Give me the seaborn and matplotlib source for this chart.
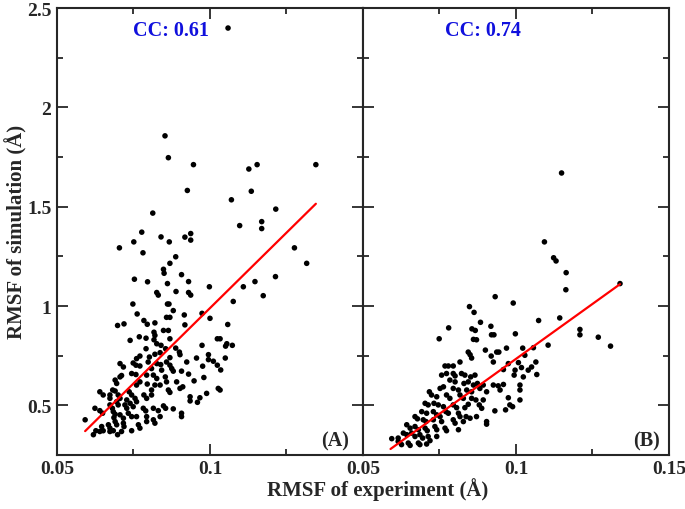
import numpy as np
import pandas as pd
import seaborn as sns
import matplotlib
matplotlib.use("Agg")
import matplotlib.pyplot as plt
from matplotlib.ticker import MultipleLocator

# panel A data
exp_a = [0.1059, 0.0853, 0.0864, 0.0946, 0.1127, 0.1154, 0.1346, 0.0926, 0.1135, 0.107,
         0.1215, 0.0813, 0.1097, 0.1169, 0.1169, 0.0777, 0.0937, 0.0704, 0.0751, 0.0781,
         0.084, 0.0867, 0.0918, 0.0937, 0.0888, 0.1276, 0.1316, 0.0848, 0.085, 0.0869,
         0.0907, 0.0753, 0.0796, 0.0861, 0.093, 0.1214, 0.1147, 0.1109, 0.0998, 0.1174,
         0.0826, 0.0831, 0.0889, 0.093, 0.0937, 0.1076, 0.0748, 0.0861, 0.0866, 0.0762,
         0.088, 0.0916, 0.0974, 0.0858, 0.0869, 0.1, 0.0698, 0.0719, 0.0784, 0.0795,
         0.082, 0.0918, 0.1058, 0.0848, 0.0864, 0.0817, 0.082, 0.0769, 0.0791, 0.0739,
         0.0817, 0.0826, 0.0869, 0.084, 0.0855, 0.0888, 0.0974, 0.1024, 0.1033, 0.1055,
         0.1051, 0.1073, 0.0791, 0.0771, 0.076, 0.0802, 0.082, 0.0837, 0.09, 0.0869,
         0.0902, 0.0956, 0.0995, 0.105, 0.0995, 0.1011, 0.1024, 0.1035, 0.0976, 0.0924,
         0.0706, 0.0717, 0.0749, 0.0758, 0.0771, 0.0798, 0.0826, 0.0839, 0.0858, 0.0869,
         0.0809, 0.0842, 0.0875, 0.088, 0.0907, 0.093, 0.098, 0.0744, 0.0758, 0.0706,
         0.0711, 0.0793, 0.0815, 0.0826, 0.0854, 0.0891, 0.0948, 0.0695, 0.069, 0.076,
         0.0771, 0.0795, 0.082, 0.0837, 0.0858, 0.0902, 0.0911, 0.0989, 0.0967, 0.1027,
         0.1033, 0.0935, 0.0935, 0.0959, 0.0864, 0.0869, 0.0809, 0.0809, 0.0784, 0.0736,
         0.0744, 0.0682, 0.069, 0.064, 0.0651, 0.0673, 0.0673, 0.07, 0.0706, 0.0728,
         0.0739, 0.0755, 0.076, 0.0793, 0.0695, 0.07, 0.0722, 0.0728, 0.0749, 0.0782,
         0.079, 0.0815, 0.0831, 0.0848, 0.0855, 0.088, 0.0907, 0.0907, 0.0673, 0.0681,
         0.064, 0.0649, 0.0624, 0.0684, 0.069, 0.0686, 0.0706, 0.0717, 0.0733, 0.0744,
         0.076, 0.0793, 0.0793, 0.0815, 0.082, 0.0837, 0.0766, 0.0717, 0.0719, 0.069,
         0.0695, 0.0668, 0.0673, 0.0646, 0.0627, 0.0619, 0.064, 0.0651, 0.0673, 0.0684,
         0.0698, 0.0711, 0.0744, 0.0592, 0.0771]
sim_a = [2.4, 1.857, 1.747, 1.712, 1.69, 1.712, 1.712, 1.582, 1.578, 1.535,
         1.488, 1.468, 1.405, 1.425, 1.39, 1.372, 1.365, 1.293, 1.323, 1.268,
         1.348, 1.323, 1.347, 1.332, 1.248, 1.293, 1.215, 1.185, 1.165, 1.215,
         1.158, 1.135, 1.122, 1.113, 1.123, 1.148, 1.123, 1.097, 1.097, 1.052,
         1.068, 1.055, 1.073, 1.068, 1.055, 1.023, 1.01, 1.01, 1.01, 0.96,
         0.977, 0.955, 0.963, 0.943, 0.943, 0.938, 0.902, 0.91, 0.927, 0.908,
         0.915, 0.905, 0.907, 0.877, 0.877, 0.868, 0.852, 0.845, 0.838, 0.827,
         0.83, 0.81, 0.835, 0.802, 0.785, 0.788, 0.802, 0.835, 0.835, 0.81,
         0.798, 0.802, 0.785, 0.748, 0.735, 0.743, 0.757, 0.765, 0.768, 0.74,
         0.755, 0.738, 0.755, 0.738, 0.73, 0.722, 0.702, 0.678, 0.697, 0.718,
         0.71, 0.693, 0.713, 0.702, 0.698, 0.718, 0.71, 0.705, 0.718, 0.702,
         0.685, 0.677, 0.685, 0.672, 0.672, 0.657, 0.64, 0.66, 0.655, 0.643,
         0.65, 0.652, 0.652, 0.635, 0.643, 0.618, 0.623, 0.61, 0.627, 0.602,
         0.618, 0.607, 0.602, 0.602, 0.618, 0.585, 0.593, 0.56, 0.538, 0.585,
         0.577, 0.543, 0.522, 0.515, 0.577, 0.565, 0.577, 0.552, 0.552, 0.568,
         0.552, 0.577, 0.572, 0.568, 0.552, 0.552, 0.535, 0.552, 0.535, 0.527,
         0.51, 0.535, 0.518, 0.535, 0.518, 0.502, 0.502, 0.485, 0.493, 0.485,
         0.472, 0.485, 0.473, 0.497, 0.485, 0.482, 0.46, 0.443, 0.502, 0.485,
         0.473, 0.46, 0.485, 0.468, 0.455, 0.438, 0.452, 0.435, 0.46, 0.443,
         0.443, 0.443, 0.418, 0.427, 0.41, 0.443, 0.402, 0.41, 0.393, 0.418,
         0.402, 0.402, 0.385, 0.393, 0.372, 0.352, 0.368, 0.372, 0.368, 0.372,
         0.352, 0.368, 0.372, 0.427, 0.385]

# panel B data
exp_b = [0.1149, 0.1093, 0.1123, 0.1131, 0.1164, 0.1163, 0.134, 0.0932, 0.0991, 0.0848,
         0.0863, 0.1074, 0.1143, 0.078, 0.0884, 0.0856, 0.0867, 0.0918, 0.092, 0.0928,
         0.1209, 0.1209, 0.0749, 0.0861, 0.0871, 0.0998, 0.1269, 0.1309, 0.1105, 0.1057,
         0.09, 0.0937, 0.0944, 0.0969, 0.1022, 0.0844, 0.085, 0.0919, 0.1029, 0.0855,
         0.1065, 0.0926, 0.0975, 0.1008, 0.0768, 0.0779, 0.0795, 0.0817, 0.1051, 0.104,
         0.1018, 0.0997, 0.0959, 0.0757, 0.0773, 0.0795, 0.0801, 0.0822, 0.0833, 0.0852,
         0.0866, 0.0994, 0.1024, 0.1068, 0.0784, 0.0801, 0.083, 0.0844, 0.0861, 0.0874,
         0.0893, 0.0926, 0.0942, 0.0959, 0.1013, 0.0752, 0.0763, 0.0795, 0.0812, 0.0839,
         0.0855, 0.0882, 0.0904, 0.0948, 0.1013, 0.0717, 0.0724, 0.0741, 0.0773, 0.0784,
         0.0817, 0.0828, 0.0855, 0.0869, 0.0893, 0.0975, 0.1013, 0.098, 0.0989, 0.0703,
         0.0713, 0.0732, 0.0746, 0.0763, 0.0795, 0.0806, 0.0833, 0.0844, 0.088, 0.0888,
         0.0931, 0.0966, 0.0692, 0.0708, 0.073, 0.0741, 0.0771, 0.0779, 0.0812, 0.0817,
         0.0837, 0.085, 0.0871, 0.0904, 0.0904, 0.067, 0.0678, 0.0697, 0.0706, 0.073,
         0.0752, 0.0757, 0.0795, 0.0801, 0.0828, 0.0643, 0.0654, 0.067, 0.0681, 0.0703,
         0.071, 0.0735, 0.0741, 0.0768, 0.0773, 0.0812, 0.0632, 0.0643, 0.0659, 0.067,
         0.0686, 0.0695, 0.0713, 0.0719, 0.0741, 0.0594, 0.0615, 0.0626, 0.0648, 0.0654,
         0.0681, 0.0686, 0.0708, 0.0615]
sim_b = [1.67, 1.323, 1.243, 1.227, 1.168, 1.082, 1.113, 1.047, 1.015, 0.997,
         0.968, 0.927, 0.94, 0.89, 0.918, 0.885, 0.877, 0.898, 0.855, 0.855,
         0.882, 0.855, 0.835, 0.832, 0.83, 0.86, 0.843, 0.798, 0.803, 0.79,
         0.778, 0.768, 0.768, 0.788, 0.788, 0.768, 0.755, 0.748, 0.752, 0.738,
         0.718, 0.718, 0.71, 0.715, 0.698, 0.698, 0.698, 0.718, 0.693, 0.677,
         0.69, 0.677, 0.68, 0.652, 0.66, 0.66, 0.648, 0.66, 0.652, 0.643,
         0.652, 0.652, 0.643, 0.655, 0.627, 0.618, 0.61, 0.618, 0.602, 0.61,
         0.602, 0.602, 0.598, 0.605, 0.602, 0.585, 0.593, 0.585, 0.577, 0.577,
         0.568, 0.585, 0.568, 0.577, 0.577, 0.568, 0.552, 0.543, 0.552, 0.535,
         0.552, 0.535, 0.535, 0.527, 0.527, 0.538, 0.527, 0.502, 0.493, 0.51,
         0.502, 0.51, 0.502, 0.493, 0.502, 0.488, 0.488, 0.505, 0.502, 0.485,
         0.472, 0.477, 0.468, 0.46, 0.468, 0.452, 0.468, 0.46, 0.46, 0.443,
         0.443, 0.435, 0.443, 0.418, 0.405, 0.443, 0.432, 0.427, 0.418, 0.427,
         0.443, 0.418, 0.427, 0.41, 0.418, 0.402, 0.385, 0.393, 0.377, 0.385,
         0.372, 0.393, 0.377, 0.385, 0.372, 0.377, 0.36, 0.352, 0.36, 0.343,
         0.352, 0.335, 0.343, 0.322, 0.343, 0.332, 0.318, 0.302, 0.31, 0.298,
         0.31, 0.302, 0.305, 0.335]

# fitted lines, end points
fit_a_x = [0.0592, 0.1346]
fit_a_y = [0.37, 1.515]
fit_b_x = [0.059, 0.134]
fit_b_y = [0.28, 1.11]

cc_labels = ["CC: 0.61", "CC: 0.74"]
panel_labels = ["(A)", "(B)"]

df_a = pd.DataFrame({"exp": exp_a, "sim": sim_a})
df_b = pd.DataFrame({"exp": exp_b, "sim": sim_b})

sns.set_style("ticks")
plt.rcParams['font.family'] = ['Liberation Serif', 'DejaVu Serif']
plt.rcParams['font.weight'] = 'bold'

fig = plt.figure(figsize=(6.85, 5.10), dpi=100)
ax1 = fig.add_axes([0.0832, 0.106, 0.4467, 0.876])
ax2 = fig.add_axes([0.5299, 0.106, 0.4467, 0.876], sharey=ax1)

panels = [(ax1, df_a, fit_a_x, fit_a_y), (ax2, df_b, fit_b_x, fit_b_y)]
for i, (ax, df, fx, fy) in enumerate(panels):
    sns.scatterplot(data=df, x="exp", y="sim", ax=ax, color="black", s=16,
                    edgecolor="none", zorder=3)
    sns.lineplot(x=fx, y=fy, ax=ax, color="red", lw=1.6, zorder=4)
    ax.set_xlim(0.05, 0.15)
    ax.set_ylim(0.25, 2.5)
    ax.xaxis.set_minor_locator(MultipleLocator(0.025))
    ax.yaxis.set_minor_locator(MultipleLocator(0.25))
    ax.yaxis.set_major_locator(MultipleLocator(0.5))
    ax.tick_params(which="both", direction="in", top=True, right=True,
                   width=1.3, labelsize=14, pad=4)
    ax.tick_params(which="major", length=8)
    ax.tick_params(which="minor", length=4)
    for sp in ax.spines.values():
        sp.set_linewidth(1.5)
    ax.set_xlabel("")
    ax.set_ylabel("")
    ax.text(0.0748 if i == 0 else 0.0768, 2.39, cc_labels[i], color="#1010dd",
            fontsize=14.5, fontweight="bold", va="center", ha="left")
    ax.text(0.1455 if i == 0 else 0.147, 0.325, panel_labels[i], fontsize=14.5,
            fontweight="bold", va="center", ha="right")

ax1.set_xticks([0.05, 0.1])
ax1.set_xticklabels(["0.05", "0.1"])
ax1.set_yticks([0.5, 1, 1.5, 2, 2.5])
ax1.set_yticklabels(["0.5", "1", "1.5", "2", "2.5"])
ax2.set_xticks([0.05, 0.1, 0.15])
ax2.set_xticklabels(["0.05", "0.1", "0.15"])
ax2.tick_params(labelleft=False)
ax1.set_xlim(0.05, 0.15)

fig.text(0.551, 0.041, "RMSF of experiment (Å)", ha="center", va="center",
         fontsize=15, fontweight="bold")
fig.text(0.024, 0.545, "RMSF of simulation (Å)", ha="center", va="center",
         rotation=90, fontsize=15, fontweight="bold")

plt.savefig("out.png", dpi=100)
